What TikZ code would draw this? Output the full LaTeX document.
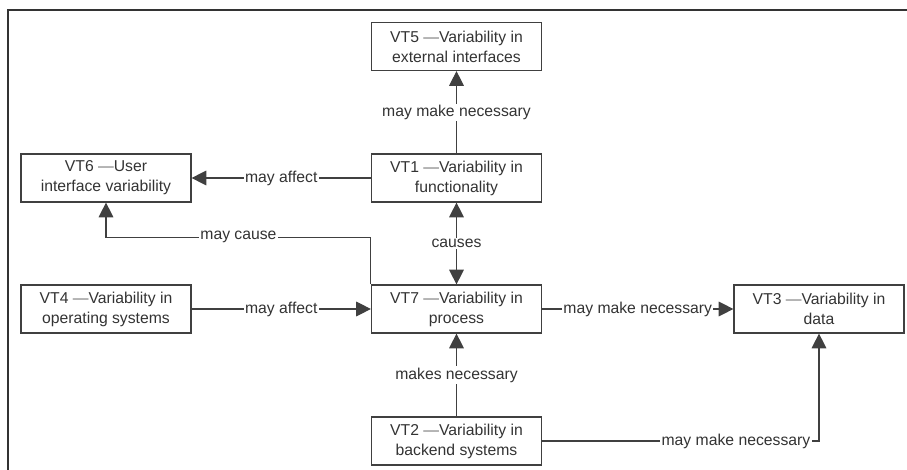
\documentclass[tikz,border=0pt]{standalone}
\usepackage{fontspec}
\setmainfont{Liberation Sans}
\usetikzlibrary{arrows.meta}

\begin{document}
\begin{tikzpicture}[x=0.75pt, y=-0.75pt,
  box/.style={rectangle, draw=black!75, line width=0.9pt, minimum width=127.5pt,
    minimum height=36pt, align=center, text=black!80, inner sep=0pt,
    font=\fontsize{11.8}{15}\selectfont},
  lbl/.style={fill=white, text=black!80, inner sep=1pt,
    font=\fontsize{11.8}{13}\selectfont},
  >={Triangle[length=11pt,width=11pt]}]

  \useasboundingbox (0,0) rectangle (907,470);
  \draw[black!80, line width=1.5pt] (907,10) -- (8,10) -- (8,470);

  \node[box] (vt5) at (456.5,46.5) {VT5 \textcolor{black!55}{---}Variability in\\external interfaces};
  \node[box] (vt1) at (456.5,178) {VT1 \textcolor{black!55}{---}Variability in\\functionality};
  \node[box] (vt6) at (106,178) {VT6 \textcolor{black!55}{---}User\\interface variability};
  \node[box] (vt7) at (456.5,309) {VT7 \textcolor{black!55}{---}Variability in\\process};
  \node[box] (vt4) at (106,309) {VT4 \textcolor{black!55}{---}Variability in\\operating systems};
  \node[box] (vt3) at (819,309) {VT3 \textcolor{black!55}{---}Variability in\\data};
  \node[box] (vt2) at (456.5,441) {VT2 \textcolor{black!55}{---}Variability in\\backend systems};

  \begin{scope}[draw=black!75, line width=0.8pt]
    \draw[->] (vt1) -- node[lbl] {may make necessary} (vt5);
    \draw[->] (vt1) -- node[lbl] {may affect} (vt6);
    \draw[<->] (vt1) -- node[lbl] {causes} (vt7);
    \draw[->] (vt7.north west) -- ++(0,-47) -| node[lbl, pos=0.25] {may cause} (vt6.south);
    \draw[->] (vt4) -- node[lbl] {may affect} (vt7);
    \draw[->] (vt7) -- node[lbl] {may make necessary} (vt3);
    \draw[->] (vt2) -- node[lbl] {makes necessary} (vt7);
    \draw[->] (vt2) -| node[lbl, pos=0.35] {may make necessary} (vt3);
  \end{scope}

\end{tikzpicture}
\end{document}
